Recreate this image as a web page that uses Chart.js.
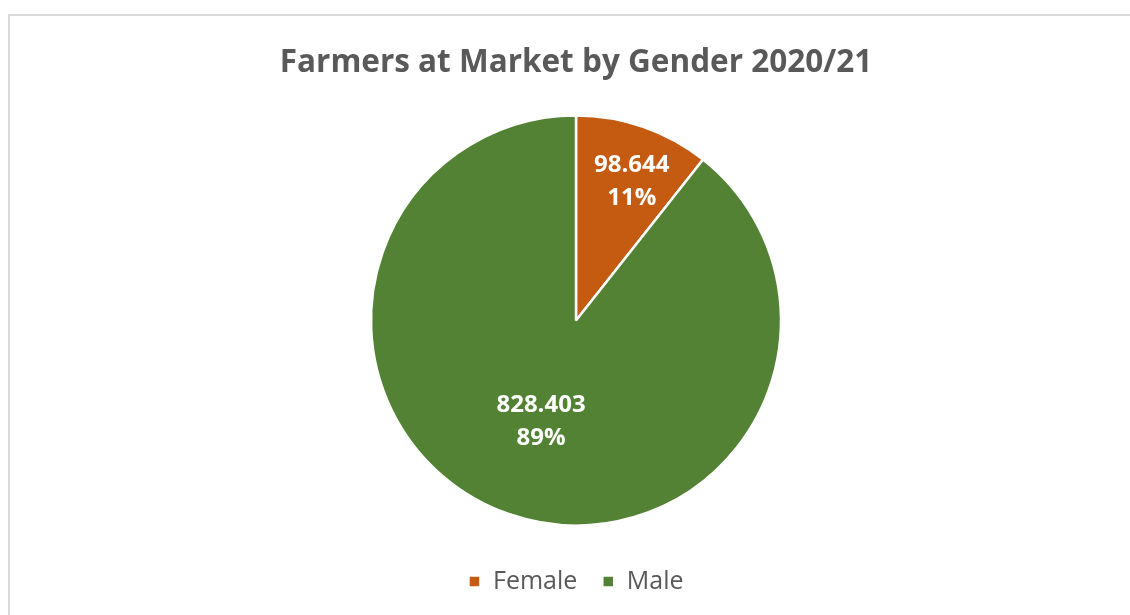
<!DOCTYPE html>
<html>
<head>
<meta charset="utf-8">
<script src="https://cdn.jsdelivr.net/npm/chart.js@4.4.0/dist/chart.umd.min.js"></script>
<style>
    html, body { margin: 0; padding: 0; background: #fff; overflow: hidden; }
    #box {
        position: absolute; left: 8px; top: 14px;
        width: 1136px; height: 620px;
        border: 2px solid #d9d9d9; box-sizing: border-box;
    }
</style>
</head>
<body>
<div id="box"><canvas id="genderChart"></canvas></div>
<script>
// Dữ liệu biểu đồ
var categories = ["Female", "Male"];
var values = [98.644, 828.403];
var percentLabels = ["11%", "89%"];
var valueLabels = ["98.644", "828.403"];

var sliceColors = ["#C55A11", "#548235"];
var labelRadius = [0.74, 0.52]; // vị trí nhãn theo bán kính
var labelShift = [[6, 4], [0, 0]]; // dịch nhãn (px)

// Plugin vẽ nhãn giá trị + phần trăm trong từng lát
var sliceLabels = {
    id: "sliceLabels",
    afterDatasetsDraw: function (chart) {
        var ctx = chart.ctx;
        var meta = chart.getDatasetMeta(0);
        ctx.save();
        ctx.fillStyle = "#ffffff";
        ctx.font = "bold 24px 'Open Sans', sans-serif";
        ctx.textAlign = "center";
        ctx.textBaseline = "middle";
        meta.data.forEach(function (arc, i) {
            var p = arc.getProps(["x", "y", "startAngle", "endAngle", "outerRadius"]);
            var mid = (p.startAngle + p.endAngle) / 2;
            var r = p.outerRadius * labelRadius[i];
            var x = p.x + Math.cos(mid) * r + labelShift[i][0];
            var y = p.y + Math.sin(mid) * r + labelShift[i][1];
            ctx.fillText(valueLabels[i], x, y - 16);
            ctx.fillText(percentLabels[i], x, y + 17);
        });
        ctx.restore();
    },
};

var ctx = document.getElementById("genderChart").getContext("2d");
new Chart(ctx, {
    type: "pie",
    data: {
        labels: categories,
        datasets: [
            {
                data: values,
                backgroundColor: sliceColors,
                borderColor: "#ffffff",
                borderWidth: 2.5,
            },
        ],
    },
    options: {
        responsive: true,
        maintainAspectRatio: false,
        animation: false,
        radius: 205,
        layout: { padding: { top: 0, bottom: 28 } },
        plugins: {
            title: {
                display: true,
                text: "Farmers at Market by Gender 2020/21",
                color: "#595959",
                font: { family: "'Open Sans', sans-serif", size: 31.5, weight: "bold" },
                padding: { top: 28, bottom: 15 },
            },
            legend: {
                position: "bottom",
                labels: {
                    color: "#595959",
                    font: { family: "'Open Sans', sans-serif", size: 25 },
                    boxWidth: 12,
                    boxHeight: 12,
                    padding: 25,
                },
            },
            tooltip: { enabled: false },
        },
    },
    plugins: [sliceLabels],
});
</script>
</body>
</html>
